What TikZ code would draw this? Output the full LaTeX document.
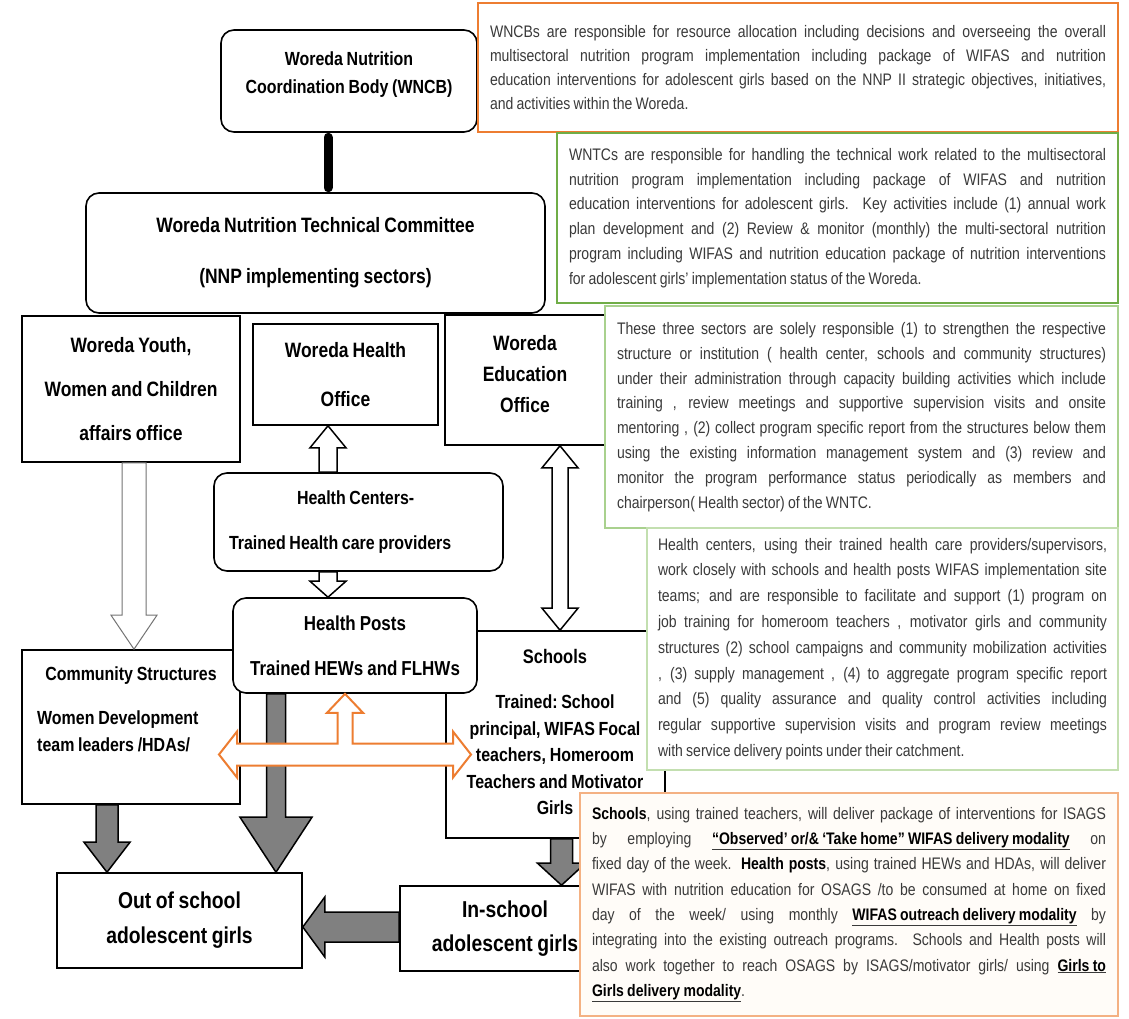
\documentclass[tikz,border=0pt]{standalone}
\usepackage{fontspec}
\setmainfont{Liberation Sans}[FakeStretch=0.84,WordSpace=0.84]
\usetikzlibrary{calc}
\usetikzlibrary{positioning}

\definecolor{noteorange}{HTML}{ED7D31}
\definecolor{paleorange}{HTML}{F4B183}
\definecolor{notegreen}{HTML}{70AD47}
\definecolor{palegreen}{HTML}{A9D18E}
\definecolor{notetext}{HTML}{3A3A3A}
\definecolor{arrowgray}{HTML}{808080}
\definecolor{creamfill}{HTML}{FFFCF8}

\newcommand{\labfont}[2]{\bfseries\fontsize{#1}{#2}\selectfont\frenchspacing}
\newcommand{\keyword}[1]{\textcolor{black}{\textbf{#1}}}
\newcommand{\keyline}[1]{\underline{\keyword{#1}}}
% vertical block arrow: style, tail, tip, shaft half width, head half width, head length
\newcommand{\vblockarrow}[6]{%
  \filldraw[#1] let \p1=(#2), \p2=(#3), \n1={(\y2-\y1)/abs(\y2-\y1)} in
    ({\x2-#4},{\y1}) -- ({\x2-#4},{\y2-(\n1)*#6}) -- ({\x2-#5},{\y2-(\n1)*#6}) -- (\p2)
    -- ({\x2+#5},{\y2-(\n1)*#6}) -- ({\x2+#4},{\y2-(\n1)*#6}) -- ({\x2+#4},{\y1}) -- cycle;}
% vertical block arrow with a head at both ends
\newcommand{\vdblarrow}[6]{%
  \filldraw[#1] let \p1=(#2), \p2=(#3), \n1={(\y2-\y1)/abs(\y2-\y1)} in
    (\p1) -- ({\x1+#5},{\y1+(\n1)*#6}) -- ({\x1+#4},{\y1+(\n1)*#6}) -- ({\x1+#4},{\y2-(\n1)*#6})
    -- ({\x1+#5},{\y2-(\n1)*#6}) -- ({\x1},{\y2}) -- ({\x1-#5},{\y2-(\n1)*#6}) -- ({\x1-#4},{\y2-(\n1)*#6})
    -- ({\x1-#4},{\y1+(\n1)*#6}) -- ({\x1-#5},{\y1+(\n1)*#6}) -- cycle;}
% horizontal block arrow
\newcommand{\hblockarrow}[6]{%
  \filldraw[#1] let \p1=(#2), \p2=(#3), \n1={(\x2-\x1)/abs(\x2-\x1)} in
    ({\x1},{\y2-#4}) -- ({\x2-(\n1)*#6},{\y2-#4}) -- ({\x2-(\n1)*#6},{\y2-#5}) -- (\p2)
    -- ({\x2-(\n1)*#6},{\y2+#5}) -- ({\x2-(\n1)*#6},{\y2+#4}) -- ({\x1},{\y2+#4}) -- cycle;}

\tikzset{
  unitbox/.style={draw, line width=1.6pt, fill=white, inner sep=0pt, align=center},
  roundbox/.style={unitbox, rounded corners=13pt},
  notebox/.style={draw, line width=1.6pt, fill=white, inner xsep=12pt, inner ysep=0pt,
    align=justify, text=notetext, font=\fontsize{16.7}{24.8}\selectfont,
    execute at begin node={\tolerance=9999 \hbadness=10000 }},
  hollow/.style={fill=white, draw=black, line width=1.5pt},
  hollowgray/.style={fill=white, draw=black!55, line width=1pt},
  solidgray/.style={fill=arrowgray, draw=black, line width=1.5pt},
  orangelink/.style={fill=white, draw=noteorange, line width=2pt}
}

\begin{document}
\begin{tikzpicture}[x=1pt,y=-1pt]
  \useasboundingbox (0,0) rectangle (1129,1018);
  % coordination and technical bodies
  \node[roundbox, minimum width=256pt, minimum height=102pt] (wncb) at (349,81) {};
  \node[font={\labfont{19}{28}}, align=center] (wncblabel) at (349,75) {Woreda Nutrition\\Coordination Body (WNCB)};
  \node[roundbox, minimum width=459pt, minimum height=120pt, font={\labfont{20.8}{51}}] (ntc) at (315.5,253) {Woreda Nutrition Technical Committee\\(NNP implementing sectors)};
  \draw[line width=9pt, line cap=round, shorten <=4.5pt, shorten >=4.5pt] ([xshift=-21pt]wncb.south) -- ([xshift=-21pt]wncb.south |- ntc.north);

  % sector offices
  \node[unitbox, minimum width=218pt, minimum height=146pt, font={\labfont{20.8}{44}}] (youth) at (131,389) {Woreda Youth,\\Women and Children\\affairs office};
  \node[unitbox, minimum width=185pt, minimum height=101pt, font={\labfont{20.8}{49}}] (who) at (345.5,374.5) {Woreda Health\\Office};
  \node[unitbox, minimum width=160pt, minimum height=130pt] (weo) at (525,380) {};
  \node[font={\labfont{20.8}{31}}, align=center] (weolabel) at (525,374) {Woreda\\Education\\Office};

  % health centers
  \node[roundbox, minimum width=289pt, minimum height=98pt, text width=259pt, align=flush left, font={\labfont{19}{45}}] (hc) at (358.5,522) {\hspace*{68pt}Health Centers-\\Trained Health care providers};

  % structures under the sectors
  \node[unitbox, minimum width=219pt, minimum height=207pt] (sch) at (555.5,734.5) {};
  \node[font={\labfont{19.6}{20}}, inner sep=0pt, anchor=north] (schhead) at (555,649) {Schools};
  \node[font={\labfont{19}{26.5}}, inner sep=0pt, align=center, anchor=north] (schtext) at (555,695) {Trained: School\\principal, WIFAS Focal\\teachers, Homeroom\\Teachers and Motivator\\Girls};
  \node[unitbox, minimum width=218pt, minimum height=154pt] (cs) at (131,727) {};
  \node[font={\labfont{19}{20}}, inner sep=0pt, anchor=north] (cshead) at (131,667) {Community Structures};
  \node[font={\labfont{19}{27}}, inner sep=0pt, align=left, anchor=north west] (cstext) at (37,711) {Women Development\\team leaders /HDAs/};
  \node[roundbox, minimum width=244pt, minimum height=95pt, font={\labfont{20.2}{45}}] (hp) at (355,645.5) {Health Posts\\Trained HEWs and FLHWs};

  % target groups
  \node[unitbox, minimum width=245pt, minimum height=95pt, font={\labfont{23}{35}}] (oos) at (179.5,920.5) {Out of school\\adolescent girls};
  \node[unitbox, minimum width=210pt, minimum height=85pt, font={\labfont{23}{34}}] (isg) at (505,928.5) {In-school\\adolescent girls};

  % block arrows
  \vblockarrow{hollowgray}{[xshift=3pt]youth.south}{[xshift=3pt]youth.south |- cs.north}{12pt}{23pt}{34pt}
  \vblockarrow{hollow}{[xshift=-30.5pt]hc.north}{[xshift=-30.5pt]hc.north |- who.south}{9pt}{18pt}{22pt}
  \vblockarrow{hollow}{[xshift=-30.5pt]hc.south}{[xshift=-30.5pt]hc.south |- hp.north}{9pt}{18pt}{16pt}
  \vdblarrow{hollow}{[xshift=35pt]weo.south}{[xshift=35pt]weo.south |- sch.north}{8pt}{18pt}{22pt}
  \vblockarrow{solidgray}{[xshift=-24pt]cs.south}{[xshift=-24pt]cs.south |- oos.north}{11pt}{23pt}{30pt}
  \vblockarrow{solidgray}{[xshift=-79pt]hp.south}{[xshift=-79pt]hp.south |- oos.north}{9.5pt}{36pt}{55pt}
  \vblockarrow{solidgray}{[xshift=6pt]sch.south}{[xshift=6pt]sch.south |- isg.north}{11pt}{24pt}{22pt}
  \hblockarrow{solidgray}{[yshift=1.5pt]isg.west}{[yshift=1.5pt]isg.west -| oos.east}{15pt}{30pt}{22pt}

  % link between community structures, health posts and schools
  \coordinate (linkw) at (219,754.5);
  \coordinate (linke) at (471,754.5);
  \filldraw[orangelink] let \p1=(linkw), \p2=(linke), \p3=([xshift=-10pt]hp.south) in
    (\p1) -- (\x1+18pt,\y1+23pt) -- (\x1+18pt,\y1+11pt) -- (\x3-7.5pt,\y1+11pt)
    -- (\x3-7.5pt,\y3-19pt) -- (\x3-18pt,\y3-19pt) -- (\p3) -- (\x3+18pt,\y3-19pt)
    -- (\x3+7.5pt,\y3-19pt) -- (\x3+7.5pt,\y1+11pt) -- (\x2-18pt,\y1+11pt)
    -- (\x2-18pt,\y1+23pt) -- (\p2) -- (\x2-18pt,\y1-23pt) -- (\x2-18pt,\y1-11pt)
    -- (\x1+18pt,\y1-11pt) -- (\x1+18pt,\y1-23pt) -- cycle;

  % explanatory notes
  \node[notebox, draw=noteorange, line width=2pt, text width=616pt, minimum height=129pt, font=\fontsize{16.7}{24.3}\selectfont] (wncbnote) at (798,67.5) {WNCBs are responsible for resource allocation including decisions and overseeing the overall\linebreak
    multisectoral nutrition program implementation including package of WIFAS and nutrition\linebreak
    education interventions for adolescent girls based on the NNP II strategic objectives, initiatives,\linebreak
    and activities within the Woreda.};
  \node[notebox, draw=notegreen, line width=2pt, text width=537pt, minimum height=170pt] (ntcnote) at (837.5,218) {WNTCs are responsible for handling the technical work related to the multisectoral\linebreak
    nutrition program implementation including package of WIFAS and nutrition\linebreak
    education interventions for adolescent girls. Key activities include (1) annual work\linebreak
    plan development and (2) Review \& monitor (monthly) the multi-sectoral nutrition\linebreak
    program including WIFAS and nutrition education package of nutrition interventions\linebreak
    for adolescent girls' implementation status of the Woreda.};
  \node[notebox, draw=palegreen, line width=1.5pt, text width=489pt, minimum height=222pt] (sectornote) at (861.5,417) {These three sectors are solely responsible (1) to strengthen the respective\linebreak
    structure or institution ( health center, schools and community structures)\linebreak
    under their administration through capacity building activities which include\linebreak
    training , review meetings and supportive supervision visits and onsite\linebreak
    mentoring , (2) collect program specific report from the structures below them\linebreak
    using the existing information management system and (3) review and\linebreak
    monitor the program performance status periodically as members and\linebreak
    chairperson( Health sector) of the WNTC.};
  \node[notebox, draw=palegreen!70, line width=1.2pt, inner xsep=11pt, text width=449pt, minimum height=242pt, font=\fontsize{16.7}{25.8}\selectfont] (hcnote) at (882.5,649) {Health centers, using their trained health care providers/supervisors,\linebreak
    work closely with schools and health posts WIFAS implementation site\linebreak
    teams; and are responsible to facilitate and support (1) program on\linebreak
    job training for homeroom teachers , motivator girls and community\linebreak
    structures (2) school campaigns and community mobilization activities\linebreak
    , (3) supply management , (4) to aggregate program specific report\linebreak
    and (5) quality assurance and quality control activities including\linebreak
    regular supportive supervision visits and program review meetings\linebreak
    with service delivery points under their catchment.};
  \node[notebox, draw=paleorange, fill=creamfill, line width=1.5pt, text width=514pt, minimum height=223pt, font=\fontsize{16.7}{25.3}\selectfont] (schnote) at (849,904.5) {\keyword{Schools}, using trained teachers, will deliver package of interventions for ISAGS\linebreak
    by employing \keyline{``Observed' or/\& `Take home'' WIFAS delivery modality} on\linebreak
    fixed day of the week. \keyword{Health posts}, using trained HEWs and HDAs, will deliver\linebreak
    WIFAS with nutrition education for OSAGS /to be consumed at home on fixed\linebreak
    day of the week/ using monthly \keyline{WIFAS outreach delivery modality} by\linebreak
    integrating into the existing outreach programs. Schools and Health posts will\linebreak
    also work together to reach OSAGS by ISAGS/motivator girls/ using \keyline{Girls to}\linebreak
    \keyline{Girls delivery modality}.};
\end{tikzpicture}
\end{document}
